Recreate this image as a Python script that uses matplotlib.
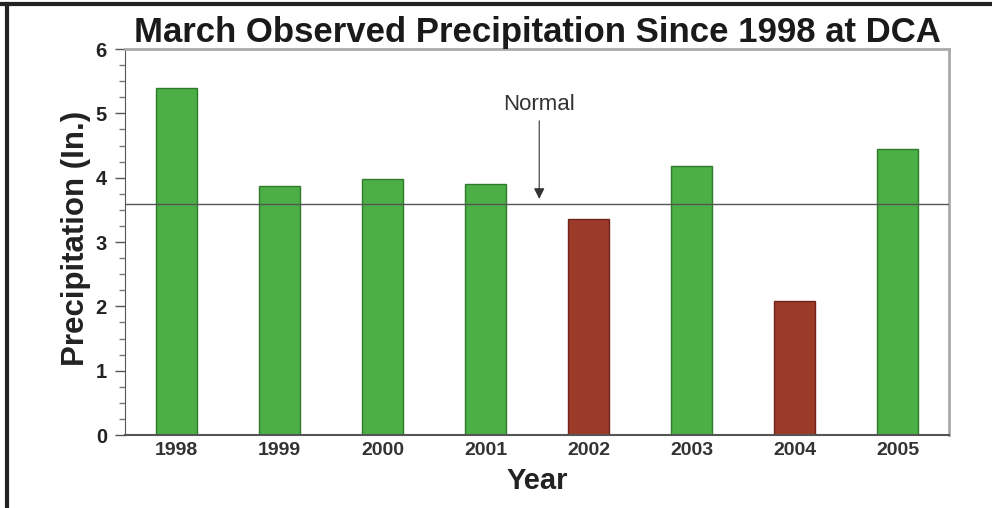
import matplotlib.pyplot as plt
from matplotlib.lines import Line2D
from matplotlib.ticker import MultipleLocator

plt.rcParams['font.family'] = ['Liberation Sans', 'DejaVu Sans']

years = ['1998', '1999', '2000', '2001', '2002', '2003', '2004', '2005']
precip = [5.39, 3.87, 3.98, 3.90, 3.36, 4.18, 2.08, 4.45]
normal = 3.59

green = '#4caf46'
red = '#9c3a2a'
colors = [green if v >= normal else red for v in precip]
edges = ['#2f7a2c' if v >= normal else '#6e2418' for v in precip]

fig = plt.figure(figsize=(9.92, 5.08), dpi=100)
ax = fig.add_axes([0.126, 0.1437, 0.831, 0.7598])

x = range(len(years))
ax.bar(x, precip, width=0.4, color=colors, edgecolor=edges, linewidth=1, zorder=2)
ax.axhline(normal, color='#555555', linewidth=1, zorder=3)

ax.set_xlim(-0.5, 7.5)
ax.set_ylim(0, 6)
ax.set_xticks(list(x))
ax.set_xticklabels(years, fontsize=14, fontweight='bold', color='#333333')
ax.yaxis.set_major_locator(MultipleLocator(1))
ax.yaxis.set_minor_locator(MultipleLocator(0.25))
for lab in ax.get_yticklabels():
    lab.set_fontsize(14.5)
    lab.set_fontweight('bold')
    lab.set_color('#222222')
ax.tick_params(axis='x', length=0, pad=5)
ax.tick_params(axis='y', which='major', length=7, width=1, color='#555555', pad=6)
ax.tick_params(axis='y', which='minor', length=4, width=1, color='#777777')

for side in ['top', 'right']:
    ax.spines[side].set_color('#aaaaaa')
    ax.spines[side].set_linewidth(2)
ax.spines['left'].set_color('#555555')
ax.spines['bottom'].set_color('#555555')
ax.spines['bottom'].set_linewidth(1.5)

ax.set_ylabel('Precipitation (In.)', fontsize=22.5, fontweight='bold',
              color='#222222')
ax.yaxis.set_label_coords(-0.041, 0.51)
ax.set_xlabel('Year', fontsize=21, fontweight='bold', labelpad=6, color='#222222')
ax.set_title('March Observed Precipitation Since 1998 at DCA', fontsize=25,
             fontweight='bold', color='#1a1a1a', pad=5)

ax.annotate('Normal', xy=(3.52, normal + 0.08), xytext=(3.52, 4.97),
            ha='center', va='bottom', fontsize=16, color='#333333',
            arrowprops=dict(arrowstyle='-|>', color='#333333', lw=0.8,
                            mutation_scale=16, shrinkA=2, shrinkB=0))

fig.add_artist(Line2D([0, 1], [0.992, 0.992], transform=fig.transFigure,
                      color='#222222', linewidth=3))
fig.add_artist(Line2D([0.007, 0.007], [0, 0.992], transform=fig.transFigure,
                      color='#222222', linewidth=3))

fig.savefig('out.png', dpi=100)
